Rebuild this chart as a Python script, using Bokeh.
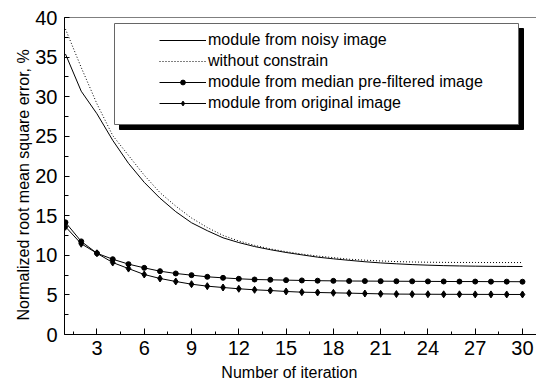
from bokeh.plotting import figure
from bokeh.models import (Range1d, FixedTicker, Span, BoxAnnotation,
                          Legend, LegendItem)
from bokeh.embed import file_html
from bokeh.resources import INLINE

# ---------------- data ----------------
iterations = list(range(1, 31))
noisy = [35.4, 30.7, 27.85, 24.5, 21.6, 19.2, 17.2, 15.5, 14.1, 13.1,
         12.2, 11.6, 11.1, 10.7, 10.35, 10.05, 9.76, 9.55, 9.36, 9.18,
         9.03, 8.92, 8.82, 8.75, 8.69, 8.65, 8.62, 8.6, 8.59, 8.58]
without_constrain = [38.55, 33.7, 29.1, 25.1, 22.6, 20.1, 17.9, 16.2, 14.7, 13.5,
                     12.5, 11.8, 11.25, 10.8, 10.45, 10.15, 9.9, 9.7, 9.5, 9.38,
                     9.28, 9.2, 9.15, 9.12, 9.1, 9.09, 9.09, 9.08, 9.08, 9.08]
median_filtered = [14.15, 11.75, 10.25, 9.5, 8.88, 8.41, 7.99, 7.7, 7.49, 7.28,
                   7.15, 7.03, 6.94, 6.9, 6.86, 6.82, 6.79, 6.77, 6.75, 6.74,
                   6.73, 6.72, 6.71, 6.7, 6.69, 6.68, 6.68, 6.67, 6.67, 6.66]
original = [13.6, 11.45, 10.25, 9.08, 8.32, 7.57, 7.07, 6.69, 6.35, 6.1,
            5.93, 5.77, 5.64, 5.55, 5.43, 5.34, 5.3, 5.26, 5.22, 5.17,
            5.13, 5.1, 5.09, 5.08, 5.07, 5.07, 5.06, 5.06, 5.05, 5.05]
labels = ["module from noisy image", "without constrain",
          "module from median pre-filtered image", "module from original image"]
x_ticks = [3, 6, 9, 12, 15, 18, 21, 24, 27, 30]
y_ticks = [0, 5, 10, 15, 20, 25, 30, 35, 40]
x_title = "Number of iteration"
y_title = "Normalized root mean square error, %"

# ---------------- layout ----------------
W, H = 536, 385
FL, FT, FB = 64, 17, 334          # frame left / top / bottom in pixels
X0, SX = 0.94, 15.76              # x start and pixels per unit
X1 = X0 + (W - FL) / SX
SY = (FB - FT) / 40.0

def dx(px):
    return X0 + (px - FL) / SX

def dy(py):
    return (FB - py) / SY

FONT = "Liberation Sans"
NBSP = "\u00a0"

p = figure(width=W, height=H, output_backend="svg", toolbar_location=None,
           x_range=Range1d(X0, X1), y_range=Range1d(0, 40),
           min_border_left=FL, min_border_right=0, min_border_top=FT,
           min_border_bottom=H - FB)
p.grid.visible = False
p.outline_line_color = None
p.background_fill_color = "white"
p.border_fill_color = "white"

# axes
p.xaxis.ticker = FixedTicker(ticks=x_ticks,
                             minor_ticks=[1.5 * i for i in range(1, 21)])
p.yaxis.ticker = FixedTicker(ticks=y_ticks,
                             minor_ticks=[2.5 * i for i in range(0, 17)])
for ax in (p.xaxis, p.yaxis):
    ax.axis_line_color = "black"
    ax.major_tick_line_color = "black"
    ax.minor_tick_line_color = "black"
    ax.major_tick_out = 0
    ax.minor_tick_out = 0
    ax.major_label_text_font = FONT
    ax.major_label_text_font_size = "20px"
    ax.major_label_text_color = "black"
    ax.axis_label_text_font = FONT
    ax.axis_label_text_font_size = "16px"
    ax.axis_label_text_font_style = "normal"
    ax.axis_label_text_color = "black"
p.xaxis.major_tick_in = 6
p.xaxis.minor_tick_in = 3
p.yaxis.major_tick_in = 5
p.yaxis.minor_tick_in = 4
p.xaxis.major_label_standoff = 6
p.yaxis.major_label_standoff = 7
# trailing no-break spaces shift the centred titles as in the original
p.xaxis.axis_label = x_title + NBSP * 5
p.yaxis.axis_label = y_title + NBSP * 4
p.xaxis.axis_label_standoff = 6
p.yaxis.axis_label_standoff = 0

# top frame line
p.add_layout(Span(location=40, dimension="width", line_color="black", line_width=1))

# curves
r_noisy = p.line(iterations, noisy, line_color="black", line_width=1)
r_wc = p.line(iterations, without_constrain, line_color="black", line_width=1,
              line_dash="1 2")
r_med_l = p.line(iterations, median_filtered, line_color="black", line_width=1)
r_med_m = p.scatter(iterations, median_filtered, marker="circle", size=5,
                    fill_color="black", line_color="black")
r_org_l = p.line(iterations, original, line_color="black", line_width=1)
r_org_m = p.scatter(iterations, original, marker="diamond", size=7,
                    fill_color="black", line_color="black")

# legend box with shadow
p.add_layout(BoxAnnotation(left=dx(119), right=dx(523), top=dy(28), bottom=dy(129),
                           fill_color="black", fill_alpha=1, line_color="black",
                           line_alpha=1))
p.add_layout(BoxAnnotation(left=dx(114), right=dx(518), top=dy(23), bottom=dy(124),
                           fill_color="white", fill_alpha=1, line_color="#666666",
                           line_width=1, line_alpha=1))

legend = Legend(items=[LegendItem(label=labels[0], renderers=[r_noisy]),
                       LegendItem(label=labels[1], renderers=[r_wc]),
                       LegendItem(label=labels[2], renderers=[r_med_l, r_med_m]),
                       LegendItem(label=labels[3], renderers=[r_org_l, r_org_m])],
                location=(159 - FL, 222), padding=0, margin=0, spacing=3,
                glyph_width=47, glyph_height=12, label_height=12,
                label_standoff=2, label_text_font=FONT,
                label_text_font_size="16px", label_text_color="black",
                background_fill_alpha=0, border_line_color=None)
p.add_layout(legend)

open("out.html", "w").write(file_html(p, INLINE))
